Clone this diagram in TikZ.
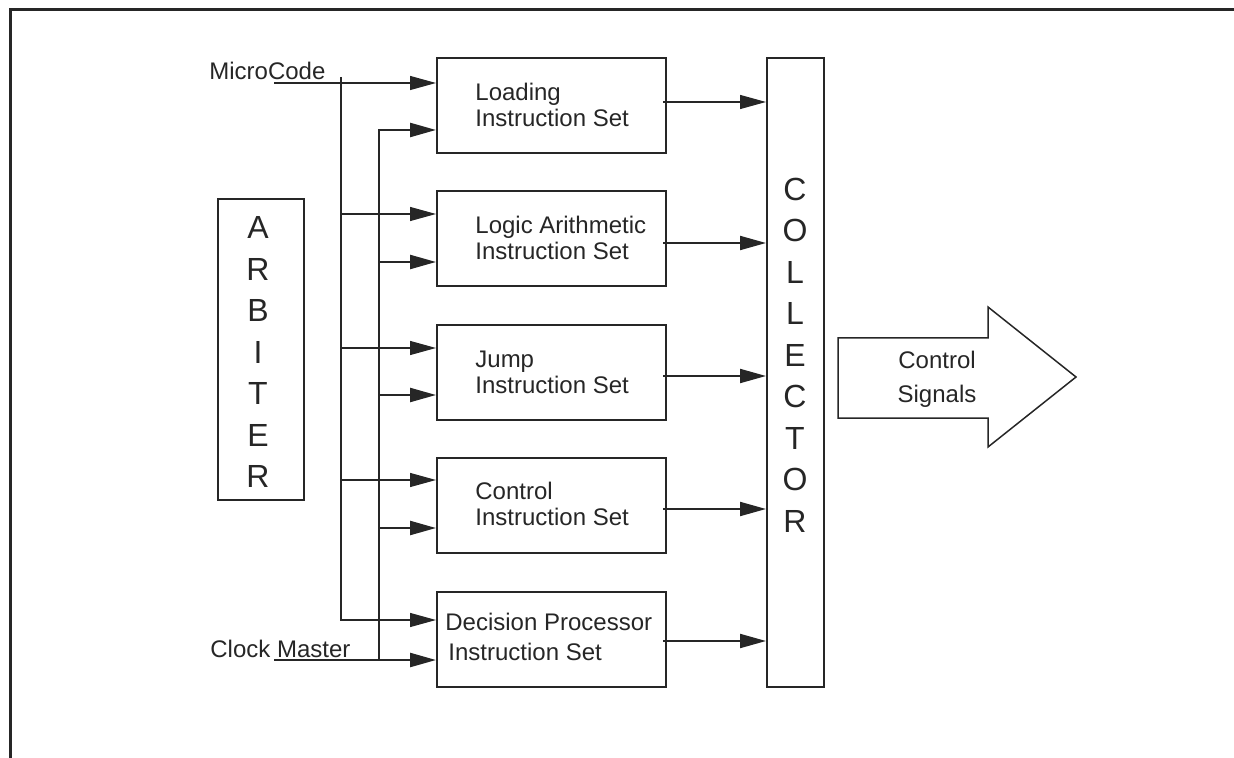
\documentclass[tikz,border=0pt]{standalone}
\usepackage{fontspec}
\setmainfont{Liberation Sans}
\usetikzlibrary{arrows.meta}
\tikzset{
  box/.style={draw=black!85, line width=1pt, minimum width=114.5pt, minimum height=47.5pt, inner sep=0pt, anchor=center},
  lbl/.style={font=\fontsize{12}{13}\selectfont, align=left, inner sep=0pt, anchor=west, text=black!85},
  big/.style={font=\fontsize{16}{20.75}\selectfont, align=center, inner sep=0pt, text=black!85},
  thin/.style={draw=black!85, line width=0.6pt},
  thick/.style={draw=black!85, line width=1.2pt},
  tip/.style={-{Triangle[length=13pt,width=7pt]}},
}
\begin{document}
\begin{tikzpicture}[x=0.5pt,y=-0.5pt]
\useasboundingbox (0,0) rectangle (1234,758);
% frame
\draw[draw=black!85, line width=1.5pt] (1234,10) -- (10,10) -- (10,758);

% instruction set boxes
\node[box] (load) at (551.5,105.5) {};
\node[box] (logic) at (551.5,239) {};
\node[box] (jump) at (551.5,372.5) {};
\node[box] (ctrl) at (551.5,505.5) {};
\node[box] (dec) at (551.5,639.5) {};

\node[lbl] (loadt) at (475,104.5) {Loading\\Instruction Set};
\node[lbl] (logict) at (475,238) {Logic Arithmetic\\Instruction Set};
\node[lbl] (jumpt) at (475,372) {Jump\\Instruction Set};
\node[lbl] (ctrlt) at (475,503.5) {Control\\Instruction Set};
\node[lbl, font=\fontsize{12}{15}\selectfont] (dect) at (445,637) {Decision Processor\\\hspace{1.5pt}Instruction Set};

% arbiter and collector
\node[draw=black!85, line width=1pt, minimum width=43pt, minimum height=150.5pt, inner sep=0pt] (arb) at (261,349.5) {};
\node[big] (arbt) at (258,352) {A\\R\\B\\I\\T\\E\\R};
\node[draw=black!85, line width=1pt, minimum width=28.5pt, minimum height=314.5pt, inner sep=0pt] (coll) at (795.5,372.5) {};
\node[big] (collt) at (795,355) {C\\O\\L\\L\\E\\C\\T\\O\\R};

% input labels
\node[font=\fontsize{12}{13}\selectfont, anchor=base west, inner sep=0pt, text=black!85] (mct) at (209,80) {MicroCode};
\node[font=\fontsize{12}{13}\selectfont, anchor=base west, inner sep=0pt, text=black!85] (cmt) at (210,657) {Clock Master};

\coordinate (mc) at (274,83);
\coordinate (cm) at (274,660);
\coordinate (tv) at (341,77);
\coordinate (tb) at (341,620);
\coordinate (kv) at (379,130);
\coordinate (kb) at (379,660);

% microcode bus (thin)
\draw[thin, tip] (mc) -- (mc -| load.west);
\draw[thin, tip] (tv) -- (tb) -- (tb -| dec.west);
\foreach \y/\b in {214/logic, 348/jump, 480/ctrl}{
  \draw[thin, tip] (341,\y) -- (\b.west |- 0,\y);
}
% clock bus (thick)
\draw[thick, tip] (kb) -- (kv) -- (kv -| load.west);
\draw[thick, tip] (cm) -- (cm -| dec.west);
\foreach \y/\b in {262/logic, 395/jump, 528/ctrl}{
  \draw[thick, tip] (379,\y) -- (\b.west |- 0,\y);
}

% outputs to collector
\draw[thin, tip] (663,102) -- (coll.west |- 0,102);
\foreach \y in {243,376,509,641}{
  \draw[draw=black!85, line width=1pt, tip] (663,\y) -- (coll.west |- 0,\y);
}

% control signals arrow
\draw[draw=black!85, line width=0.75pt, line join=miter] (838,338) -- (988,338) -- (988,307) -- (1076,377) -- (988,447) -- (988,418) -- (838,418) -- cycle;
\node[font=\fontsize{12}{17}\selectfont, align=center, inner sep=0pt, text=black!85] (cst) at (937,379) {Control\\Signals};
\end{tikzpicture}
\end{document}
